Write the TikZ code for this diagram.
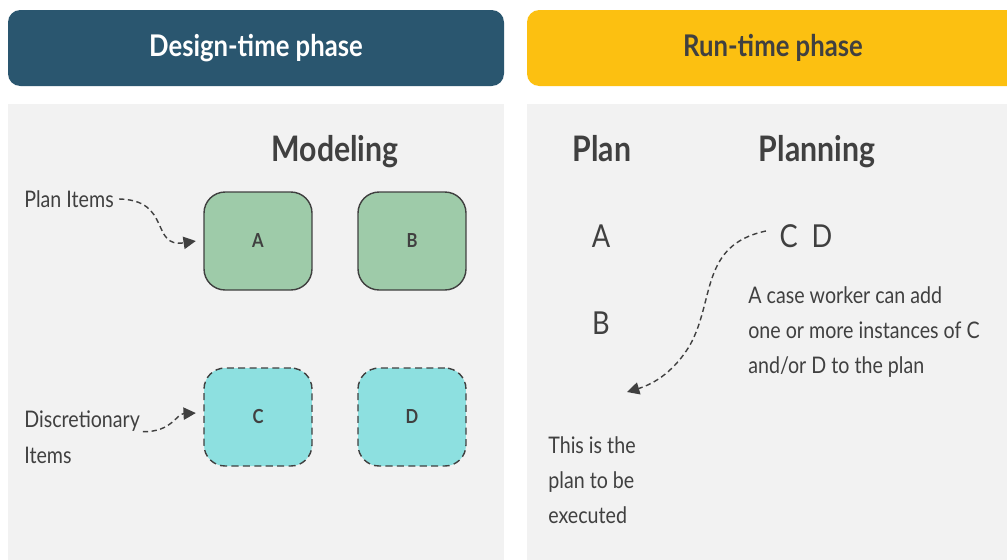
\documentclass[tikz,border=0pt]{standalone}
\usepackage{fontspec}
\setmainfont{Lato}[FakeStretch=0.86]
\usetikzlibrary{arrows.meta,positioning}
\definecolor{designblue}{HTML}{2A566F}
\definecolor{runyellow}{HTML}{FCC011}
\definecolor{panelgrey}{HTML}{F2F2F2}
\definecolor{itemgreen}{HTML}{9ECBA9}
\definecolor{itemcyan}{HTML}{8DE0E0}
\definecolor{inkgrey}{HTML}{404040}
\tikzset{
	header/.style={rounded corners=7pt, font=\bfseries\fontsize{17}{20}\selectfont},
	item/.style={draw=inkgrey, thick, rounded corners=12pt, fill=itemgreen, minimum width=2.16cm, minimum height=1.96cm, font=\bfseries\fontsize{11}{13}\selectfont, text=inkgrey},
	discitem/.style={item, fill=itemcyan, dash pattern=on 4pt off 2.5pt},
	note/.style={text=inkgrey, anchor=west, align=left, inner sep=0pt, font=\fontsize{13}{20}\selectfont},
	title/.style={text=inkgrey, anchor=base, font=\bfseries\fontsize{20}{24}\selectfont},
	letter/.style={text=inkgrey, font=\fontsize{18}{22}\selectfont},
	pointer/.style={draw=inkgrey, densely dashed, thick, -{Triangle[length=7pt,width=7pt]}}
}
\begin{document}
\begin{tikzpicture}[x=0.02cm, y=-0.02cm]
		%%%%% START %%%%%
		\useasboundingbox (0,0) rectangle (1007,559);
		\clip (0,0) rectangle (1007,559);
		\fill[white] (0,0) rectangle (1007,559);
		
		%%%%% HEADERS %%%%%
		\fill[designblue, rounded corners=7pt] (8,10) rectangle (504,86);
		\node[header, text=white] (designhead) at (256,48) {Design-time phase};
		\fill[runyellow, rounded corners=7pt] (527,10) rectangle (1030,86);
		\node[header, text=inkgrey] (runhead) at (773,48) {Run-time phase};
		
		%%%%% PANELS %%%%%
		\fill[panelgrey] (8,104) rectangle (504,570);
		\fill[panelgrey] (527,104) rectangle (1030,570);
		
		%%%%% DESIGN TIME %%%%%
		\node[title] (modeling) at (335,161) {Modeling};
		\node[item] (itemA) at (258,241) {A};
		\node[item] (itemB) at (412,241) {B};
		\node[discitem] (itemC) at (258,417) {C};
		\node[discitem] (itemD) at (412,417) {D};
		
		\node[note] (planitems) at (24,199) {Plan Items};
		\node[note] (discr) at (24,421) {Discretionary};
		\node[note] (discitems) at (24,455) {Items};
		
		\draw[pointer] ([xshift=0.1cm]planitems.east) .. controls (172,200) and (150,248) .. ([xshift=-0.15cm]itemA.west);
		\draw[pointer] ([xshift=0.05cm]discr.south east) .. controls (172,432) and (176,414) .. ([xshift=-0.15cm,yshift=0.08cm]itemC.west);
		
		%%%%% RUN TIME %%%%%
		\node[title] (plan) at (602,161) {Plan};
		\node[title] (planning) at (817,161) {Planning};
		\node[letter] (planA) at (601,236) {A};
		\node[letter] (planB) at (601,323) {B};
		\node[letter] (planCD) at (806,236) {C~~D};
		
		\node[note] (worker) at (748,332) {A case worker can add\\one or more instances of C\\and/or D to the plan};
		\node[note] (executed) at (548,480) {This is the\\plan to be\\executed};
		
		\draw[pointer] ([xshift=-0.15cm,yshift=0.1cm]planCD.west) .. controls (700,245) and (715,300) .. (690,345) .. controls (672,375) and (650,385) .. (627,392);
		%%%%% END %%%%%
	\end{tikzpicture}
\end{document}
